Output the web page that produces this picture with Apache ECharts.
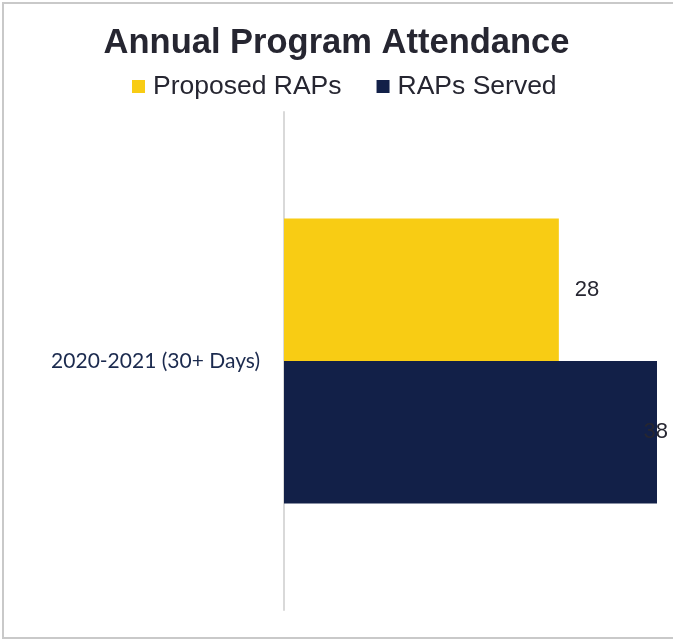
<!DOCTYPE html>
<html>
<head>
<meta charset="utf-8">
<script src="https://cdn.jsdelivr.net/npm/echarts@6/dist/echarts.min.js"></script>
<style>
  html, body { margin: 0; padding: 0; background: #fff; }
  #chart { width: 673px; height: 640px; }
</style>
</head>
<body>
<div id="chart"></div>
<script>
const categories = ['2020-2021 (30+ Days)'];
const proposedRAPs = [28];
const rapsServed = [38];
const seriesNames = ['Proposed RAPs', 'RAPs Served'];

const chart = echarts.init(document.getElementById('chart'));
chart.setOption({
  animation: false,
  backgroundColor: '#fff',
  graphic: [{
    type: 'rect',
    shape: { x: 3, y: 3, width: 690, height: 635 },
    style: { fill: 'none', stroke: '#c9c9c9', lineWidth: 2 },
    silent: true
  }],
  title: {
    text: 'Annual Program Attendance',
    left: 'center',
    top: 21,
    textStyle: { fontFamily: 'Liberation Sans, Arial, sans-serif', fontSize: 34.5, fontWeight: 'bold', color: '#262631' }
  },
  legend: {
    top: 68,
    left: 127,
    itemWidth: 13,
    itemHeight: 13,
    itemGap: 35,
    icon: 'rect',
    textStyle: { fontFamily: 'Liberation Sans, Arial, sans-serif', fontSize: 26.5, color: '#262631', padding: [0, 0, 0, 3] },
    data: seriesNames
  },
  grid: { left: 284, right: 16, top: 112, bottom: 30, containLabel: false },
  xAxis: {
    type: 'value', min: 0, max: 38,
    show: false
  },
  yAxis: {
    type: 'category',
    inverse: true,
    data: categories,
    axisLine: { show: true, lineStyle: { color: '#d9d9d9', width: 2 } },
    axisTick: { show: false },
    axisLabel: { margin: 24, fontFamily: 'Lato, Open Sans, sans-serif', fontSize: 21, color: '#1b2a4e' }
  },
  series: [
    {
      name: seriesNames[0], type: 'bar', data: proposedRAPs,
      barGap: '0%', barCategoryGap: '42.8%',
      itemStyle: { color: '#f8cc14' },
      label: { show: true, position: 'right', distance: 16, fontFamily: 'Liberation Sans, Arial, sans-serif', fontSize: 22, color: '#262631' }
    },
    {
      name: seriesNames[1], type: 'bar', data: rapsServed,
      barGap: '0%', barCategoryGap: '42.8%',
      itemStyle: { color: '#122048' },
      label: { show: true, position: 'insideRight', offset: [16, 0], fontFamily: 'Liberation Sans, Arial, sans-serif', fontSize: 22, color: '#262631' }
    }
  ]
});
</script>
</body>
</html>
